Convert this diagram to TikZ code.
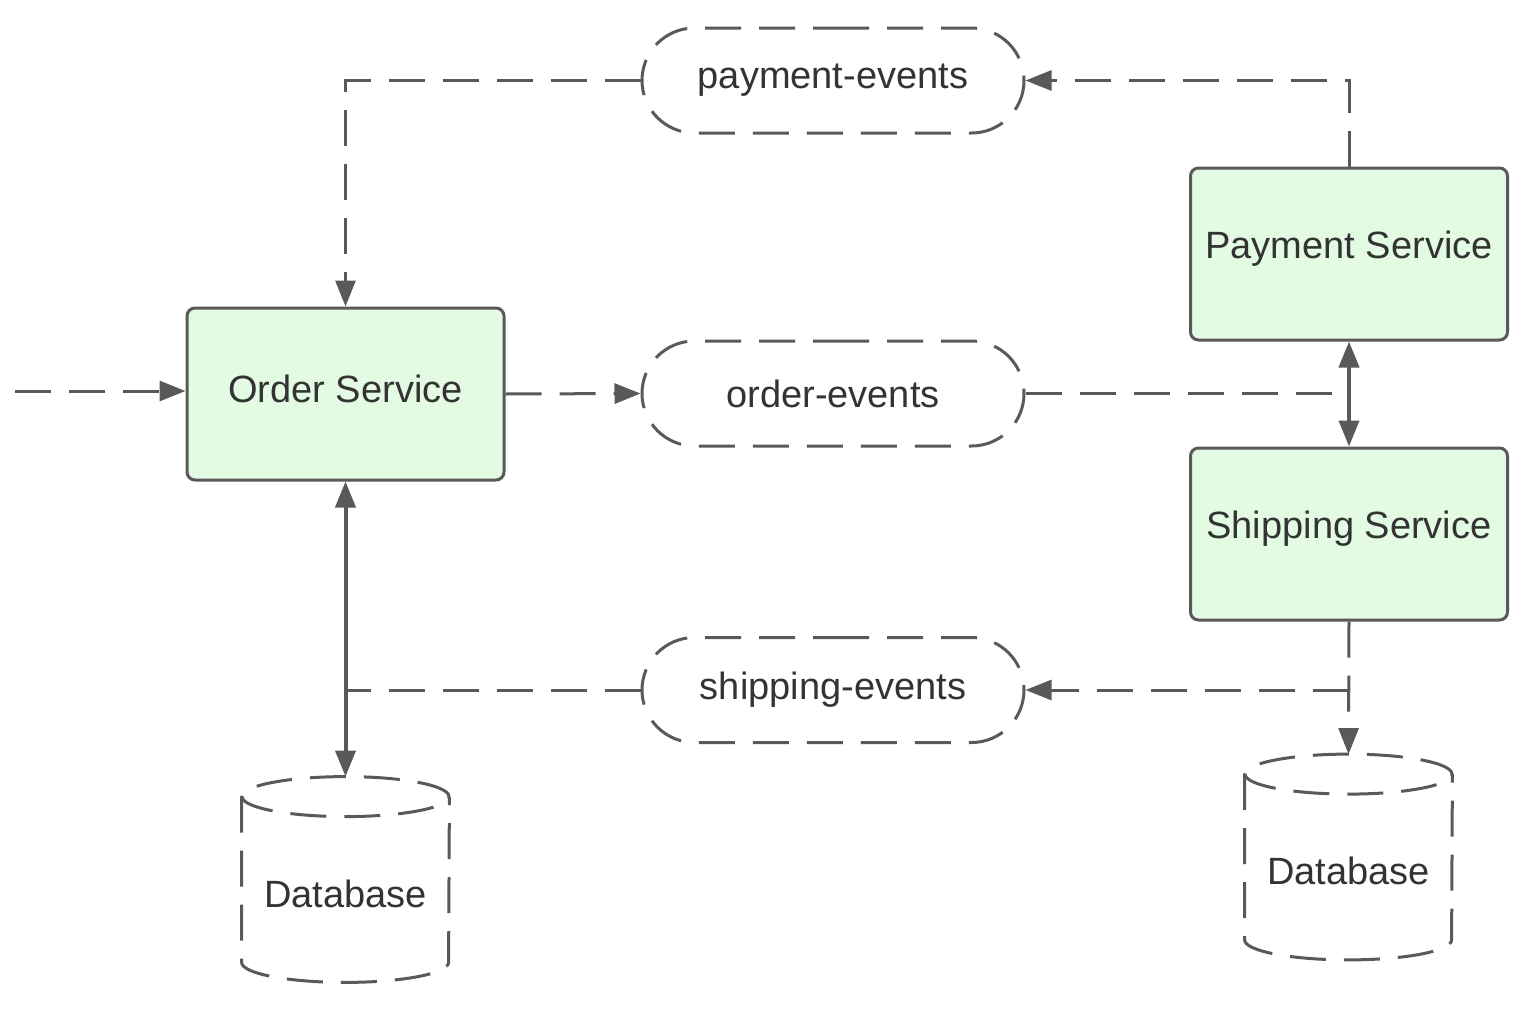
\documentclass[tikz,border=0pt]{standalone}
\usepackage{fontspec}
\setmainfont{Liberation Sans}
\usetikzlibrary{arrows.meta,shapes.misc}
\definecolor{ln}{RGB}{89,89,89}
\definecolor{bx}{RGB}{227,250,227}
\definecolor{tx}{RGB}{51,51,51}
\newcommand{\uptext}[1]{\raisebox{2.5pt}[\height][\depth]{#1}}
\newcommand{\downtext}[1]{\raisebox{-7pt}[\height][\depth]{#1}}
\tikzset{
  lbl/.style={text=tx, font=\fontsize{19}{22}\selectfont, inner sep=0pt},
  dashpat/.style={dash pattern=on 18pt off 9pt},
  svc/.style={lbl, draw=ln, line width=1.5pt, fill=bx, rounded corners=4pt,
    minimum width=158.5pt, minimum height=86pt},
  topic/.style={lbl, draw=ln, line width=1.5pt, rounded rectangle, dashpat,
    minimum width=191pt, minimum height=52.5pt},
  dbnode/.style={lbl, minimum width=103.5pt, minimum height=102.5pt},
  cyl/.style={draw=ln, line width=1.5pt, dashpat},
  conn/.style={draw=ln, line width=1.5pt, dashpat},
  solidc/.style={draw=ln, line width=2pt},
  tip/.style={-{Triangle[length=13pt,width=10pt]}},
  dtip/.style={{Triangle[length=13pt,width=10pt]}-{Triangle[length=13pt,width=10pt]}}
}
\begin{document}
\begin{tikzpicture}[x=0.5pt,y=-0.5pt]
\useasboundingbox (0,0) rectangle (1521,1012);

% services
\node[svc] (os) at (345.5,394) {\uptext{Order Service}};
\node[svc] (pay) at (1349,254) {\uptext{Payment Service}};
\node[svc] (ship) at (1349,534) {\uptext{Shipping Service}};

% topics
\node[topic] (pe) at (833,80.5) {payment-events};
\node[topic] (oe) at (833,393.5) {order-events};
\node[topic] (se) at (833,690) {shipping-events};

% databases
\node[dbnode] (db1) at (345.5,879.5) {\downtext{Database}};
\node[dbnode] (db2) at (1348.5,857) {\downtext{Database}};
\foreach \d in {db1,db2}{
  \draw[cyl] ([yshift=-10pt]\d.north) ellipse (51.75pt and 10pt);
  \draw[cyl] ([yshift=-10pt]\d.north west) -- ([yshift=10pt]\d.south west)
     arc[start angle=180, end angle=360, x radius=51.75pt, y radius=10pt]
     -- ([yshift=-10pt]\d.north east);
}

% connectors
\coordinate (in) at (15,391);
\draw[conn,tip] (in) -- (in -| os.west);
\draw[conn,tip] (os.east) -- (oe.west);
\draw[conn] (oe.east) -- (oe.east -| pay.south);
\draw[solidc,dtip] (pay.south) -- (ship.north);
\draw[conn,tip] (pay.north) |- (pe.east);
\draw[conn,tip] (pe.west) -| (os.north);
\draw[solidc,dtip] (os.south) -- (db1.north);
\draw[conn,tip] (ship.south) -- (db2.north);
\coordinate (j2) at (ship.south |- se.east);
\draw[conn,tip] (j2) -- (se.east);
\draw[conn] (se.west) -- (se.west -| os.south);
\end{tikzpicture}
\end{document}
